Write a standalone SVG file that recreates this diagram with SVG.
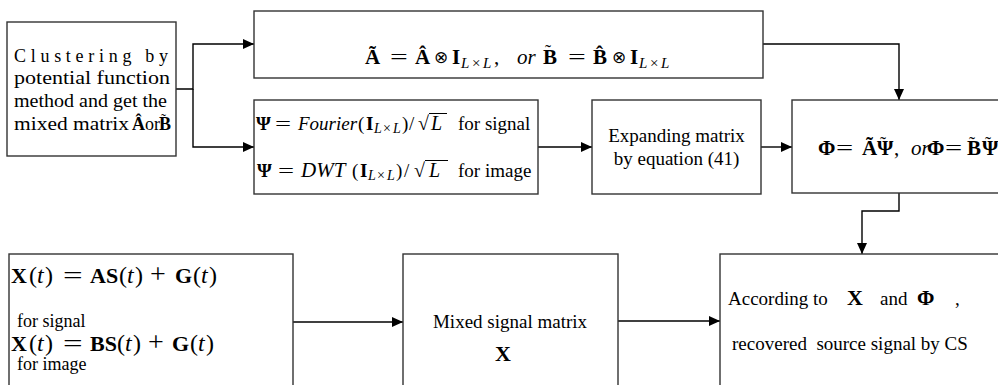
<svg xmlns="http://www.w3.org/2000/svg" width="998" height="385" viewBox="0 0 998 385">
<defs>
<marker id="arr" markerUnits="userSpaceOnUse" markerWidth="12" markerHeight="10" refX="11" refY="5" orient="auto">
<path d="M0,0 L11,5 L0,10 Z" fill="#000"/>
</marker>
<style>
.box{fill:#fff;stroke:#333;stroke-width:1.4}
.c{fill:none;stroke:#000;stroke-width:1.4}
text{fill:#000;font-family:'Liberation Serif',serif}
.t{font-size:19px}
.b{font-weight:bold}
.i{font-style:italic}
.ov{stroke:#000;stroke-width:1}
</style>
</defs>
<rect width="998" height="385" fill="#fff"/>

<g id="connectors">
<path class="c" d="M176 89 H193 V44 H254" marker-end="url(#arr)"/>
<path class="c" d="M193 89 V147 H254" marker-end="url(#arr)"/>
<path class="c" d="M538 147 H592" marker-end="url(#arr)"/>
<path class="c" d="M761 147 H792" marker-end="url(#arr)"/>
<path class="c" d="M763 44 H899 V100" marker-end="url(#arr)"/>
<path class="c" d="M899 193 V211 H862 V254" marker-end="url(#arr)"/>
<path class="c" d="M293 322 H403" marker-end="url(#arr)"/>
<path class="c" d="M618 321 H720" marker-end="url(#arr)"/>
</g>

<g id="cluster" font-size="18">
<rect class="box" x="7" y="22" width="169" height="134"/>
<text x="14" y="62" textLength="154" lengthAdjust="spacing">Clustering by</text>
<text x="14" y="84" textLength="156" lengthAdjust="spacingAndGlyphs">potential function</text>
<text x="14" y="107" textLength="153" lengthAdjust="spacingAndGlyphs">method and get the</text>
<text x="14" y="130" textLength="115" lengthAdjust="spacingAndGlyphs">mixed matrix</text>
<text x="132" y="130" class="b">Â</text>
<text x="145" y="130">or</text>
<text x="159" y="130" class="b">B</text>
<text x="161" y="124" font-size="15">˜</text>
</g>

<g id="kron" font-size="21">
<rect class="box" x="254" y="11" width="509" height="67"/>
<text x="365" y="64" class="b">Ã</text>
<text transform="translate(390 64) scale(1.5 1)">=</text>
<text x="415" y="64" class="b">Â</text>
<text x="434" y="63" font-size="17">⊗</text>
<text x="452" y="64" class="b">I</text>
<text x="461" y="68" font-size="15" class="i">L</text>
<text x="472" y="68" font-size="15">×</text>
<text x="483" y="68" font-size="15" class="i">L</text>
<text x="494" y="64">,</text>
<text x="517" y="64" class="i">or</text>
<text x="543" y="64" class="b">B</text>
<text x="545" y="58" font-size="18">˜</text>
<text transform="translate(568 64) scale(1.5 1)">=</text>
<text x="593" y="64" class="b">B̂</text>
<text x="612" y="63" font-size="17">⊗</text>
<text x="630" y="64" class="b">I</text>
<text x="639" y="68" font-size="15" class="i">L</text>
<text x="650" y="68" font-size="15">×</text>
<text x="661" y="68" font-size="15" class="i">L</text>
</g>

<g id="psi" font-size="19">
<rect class="box" x="254" y="100" width="284" height="94"/>
<text x="256" y="130" class="b">Ψ</text>
<text transform="translate(275 130) scale(1.5 1)">=</text>
<text x="298" y="130" class="i">Fourier</text>
<text x="358" y="130">(</text>
<text x="366" y="130" class="b">I</text>
<text x="374" y="133" font-size="14" class="i">L</text>
<text x="383" y="133" font-size="14">×</text>
<text x="393" y="133" font-size="14" class="i">L</text>
<text x="402" y="130">)</text>
<text x="409" y="130">/</text>
<text x="418" y="130" font-size="20">√</text>
<text x="431" y="130" class="i" font-size="20">L</text>
<line class="ov" x1="429" y1="113.5" x2="447" y2="113.5"/>
<text x="458" y="130">for signal</text>

<text x="257" y="177" class="b">Ψ</text>
<text transform="translate(278 177) scale(1.5 1)">=</text>
<text x="301" y="177" class="i" font-size="21">DWT</text>
<text x="352" y="177">(</text>
<text x="360" y="177" class="b">I</text>
<text x="368" y="180" font-size="14" class="i">L</text>
<text x="377" y="180" font-size="14">×</text>
<text x="387" y="180" font-size="14" class="i">L</text>
<text x="396" y="177">)</text>
<text x="404" y="177">/</text>
<text x="414" y="177" font-size="20">√</text>
<text x="429" y="177" class="i" font-size="20">L</text>
<line class="ov" x1="425" y1="160.5" x2="448" y2="160.5"/>
<text x="458" y="177">for image</text>
</g>

<g id="expand">
<rect class="box" x="592" y="100" width="169" height="94"/>
<text x="676.5" y="142" class="t" text-anchor="middle">Expanding matrix</text>
<text x="676.5" y="165" class="t" text-anchor="middle">by equation (41)</text>
</g>

<g id="phi" font-size="21">
<rect class="box" x="792" y="100" width="220" height="93"/>
<text x="818" y="155" class="b">Φ</text>
<text transform="translate(836 155) scale(1.45 1)">=</text>
<text x="862" y="155" class="b">Ã</text>
<text x="877" y="155" class="b">Ψ</text>
<text x="880" y="150" font-size="18">˜</text>
<text x="894" y="155">,</text>
<text x="911" y="155" class="i">or</text>
<text x="927" y="155" class="b">Φ</text>
<text transform="translate(945 155) scale(1.45 1)">=</text>
<text x="967" y="155" class="b">B</text>
<text x="969" y="150" font-size="18">˜</text>
<text x="982" y="155" class="b">Ψ</text>
<text x="985" y="150" font-size="18">˜</text>
</g>

<g id="model" font-size="24">
<rect class="box" x="9" y="254" width="284" height="150"/>
<text x="11" y="283" class="b" font-size="22">X</text>
<text x="29" y="283">(</text>
<text x="37" y="283" class="i">t</text>
<text x="45" y="283">)</text>
<text transform="translate(63 283) scale(1.45 1)">=</text>
<text x="90" y="283" class="b" font-size="22">AS</text>
<text x="119" y="283">(</text>
<text x="127" y="283" class="i">t</text>
<text x="135" y="283">)</text>
<text x="150" y="283" font-size="28">+</text>
<text x="175" y="283" class="b" font-size="22">G</text>
<text x="193" y="283">(</text>
<text x="201" y="283" class="i">t</text>
<text x="209" y="283">)</text>

<text x="11" y="351" class="b" font-size="22">X</text>
<text x="29" y="351">(</text>
<text x="37" y="351" class="i">t</text>
<text x="45" y="351">)</text>
<text transform="translate(63 351) scale(1.45 1)">=</text>
<text x="90" y="351" class="b" font-size="22">BS</text>
<text x="117" y="351">(</text>
<text x="125" y="351" class="i">t</text>
<text x="133" y="351">)</text>
<text x="148" y="351" font-size="28">+</text>
<text x="172" y="351" class="b" font-size="22">G</text>
<text x="190" y="351">(</text>
<text x="198" y="351" class="i">t</text>
<text x="206" y="351">)</text>

<text x="17" y="327" font-size="18">for signal</text>
<text x="17" y="370" font-size="18">for image</text>
</g>

<g id="mixed">
<rect class="box" x="403" y="254" width="215" height="150"/>
<text x="510" y="328" class="t" text-anchor="middle">Mixed signal matrix</text>
<text x="503" y="361" font-size="22" class="b" text-anchor="middle">X</text>
</g>

<g id="recover">
<rect class="box" x="720" y="254" width="290" height="150"/>
<text x="728" y="305" class="t">According to</text>
<text x="847" y="305" font-size="22" class="b">X</text>
<text x="880" y="305" class="t">and</text>
<text x="917" y="305" font-size="21" class="b">Φ</text>
<text x="955" y="305" class="t">,</text>
<text x="732" y="350" class="t" xml:space="preserve">recovered  source signal by CS</text>
</g>
</svg>
